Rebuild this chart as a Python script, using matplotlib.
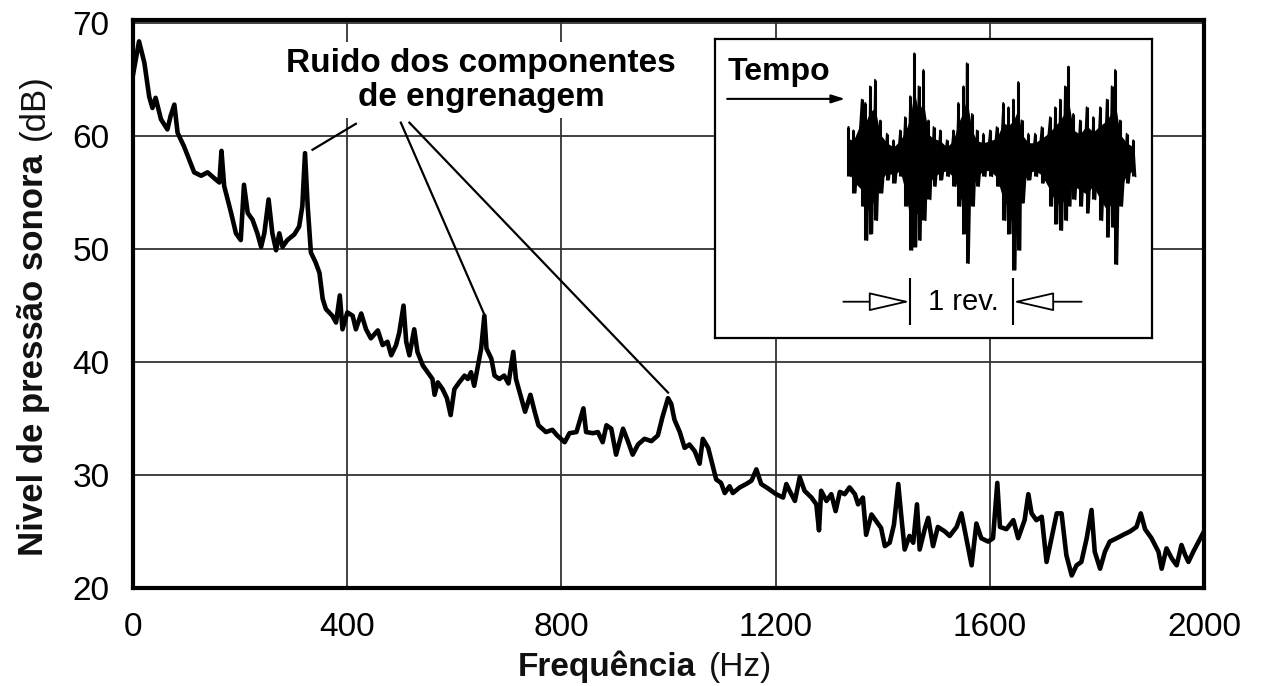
import matplotlib
matplotlib.use("Agg")
import matplotlib.pyplot as plt
import numpy as np

plt.rcParams["font.family"] = ["Liberation Sans", "DejaVu Sans"]

# spectrum (Hz, dB)
freq = [0, 11, 21, 30, 36, 42, 52, 64, 70, 77, 83, 95, 105, 114, 127, 139, 151, 161,
        165, 170, 183, 192, 201, 207, 214, 223, 232, 239, 245, 253, 260, 267, 273, 279,
        288, 301, 310, 316, 321, 326, 332, 341, 348, 354, 360, 372, 379, 386, 391, 400,
        410, 416, 426, 435, 444, 457, 466, 475, 482, 491, 497, 505, 510, 516, 525, 531,
        541, 550, 559, 563, 569, 578, 586, 593, 600, 609, 619, 625, 631, 637, 644, 650,
        656, 660, 669, 675, 684, 693, 701, 710, 715, 725, 732, 742, 750, 757, 771, 783,
        792, 806, 815, 828, 841, 846, 859, 868, 877, 884, 893, 902, 915, 924, 933, 943,
        955, 968, 980, 989, 999, 1005, 1011, 1021, 1030, 1039, 1049, 1058, 1064, 1074,
        1083, 1089, 1098, 1105, 1114, 1120, 1133, 1145, 1155, 1164, 1173, 1186, 1201,
        1214, 1220, 1226, 1236, 1245, 1254, 1267, 1276, 1281, 1285, 1295, 1304, 1312,
        1320, 1329, 1338, 1348, 1354, 1363, 1369, 1379, 1388, 1397, 1404, 1413, 1421,
        1429, 1435, 1441, 1450, 1457, 1464, 1469, 1479, 1485, 1494, 1503, 1516, 1525,
        1538, 1547, 1556, 1566, 1575, 1584, 1597, 1606, 1614, 1619, 1631, 1644, 1653,
        1665, 1672, 1678, 1687, 1697, 1706, 1718, 1725, 1734, 1743, 1753, 1762, 1771,
        1781, 1790, 1796, 1806, 1815, 1824, 1837, 1849, 1862, 1874, 1882, 1890, 1902,
        1915, 1921, 1930, 1940, 1949, 1958, 1965, 1971, 1980, 1990, 2000]
level = [65.5, 68.4, 66.5, 63.5, 62.5, 63.4, 61.5, 60.6, 61.8, 62.8, 60.3, 59.1, 57.9,
         56.8, 56.5, 56.8, 56.3, 55.9, 58.7, 55.6, 53.2, 51.4, 50.8, 55.7, 53.2, 52.6,
         51.4, 50.2, 51.4, 54.4, 51.4, 49.9, 51.4, 50.2, 50.8, 51.3, 52.0, 53.8, 58.5,
         53.8, 49.7, 48.8, 47.9, 45.6, 44.7, 44.1, 43.5, 45.9, 42.9, 44.4, 44.1, 42.9,
         44.3, 42.9, 42.1, 42.8, 41.5, 41.8, 40.6, 41.5, 42.6, 45.0, 41.8, 40.6, 42.9,
         40.9, 39.7, 39.1, 38.5, 37.1, 38.2, 37.6, 36.8, 35.3, 37.6, 38.2, 38.8, 38.5,
         39.1, 37.9, 39.7, 41.2, 44.1, 41.2, 40.3, 38.8, 38.5, 38.8, 38.1, 40.9, 38.5,
         36.8, 35.6, 37.1, 35.6, 34.4, 33.8, 34.0, 33.5, 32.9, 33.7, 33.8, 35.9, 33.8,
         33.7, 33.8, 32.9, 34.4, 34.1, 31.8, 34.1, 33.0, 31.8, 32.7, 33.2, 33.0, 33.5,
         35.2, 36.8, 36.3, 34.9, 33.8, 32.4, 32.7, 32.1, 31.0, 33.2, 32.4, 30.7, 29.6,
         29.3, 28.4, 29.0, 28.4, 28.9, 29.2, 29.5, 30.5, 29.2, 28.8, 28.3, 28.0, 29.2,
         28.6, 27.7, 29.8, 28.6, 28.0, 27.4, 25.1, 28.6, 27.7, 28.3, 26.8, 28.5, 28.3,
         28.9, 28.3, 27.4, 28.0, 24.7, 26.5, 25.9, 25.3, 23.7, 24.0, 25.6, 29.2, 26.2,
         23.4, 24.6, 24.0, 27.4, 23.4, 25.3, 26.2, 23.7, 25.4, 25.0, 24.6, 25.4, 26.6,
         24.4, 22.0, 25.7, 24.4, 24.1, 24.4, 29.3, 25.4, 25.2, 26.0, 24.4, 26.0, 28.3,
         26.6, 26.0, 26.3, 22.3, 25.0, 26.6, 26.6, 22.9, 21.1, 22.0, 22.3, 24.4, 26.9,
         23.2, 21.7, 23.2, 24.1, 24.4, 24.7, 25.0, 25.4, 26.6, 25.2, 24.4, 23.2, 21.7,
         23.5, 22.6, 22.0, 23.8, 22.9, 22.3, 23.2, 24.1, 25.0]

x_ticks = [0, 400, 800, 1200, 1600, 2000]
y_ticks = [20, 30, 40, 50, 60, 70]

# leader lines from the label down to the gear-mesh peaks
leader_start_freq = [416, 500, 516]
leader_start_level = [61.1, 61.2, 61.2]
peak_freq = [335, 656, 999]
peak_level = [58.8, 44.2, 37.3]

# time signal in the inset: envelope of each burst line (relative units)
wave_t = [0.6, 2.3, 5.2, 6.4, 8.1, 9.8, 11.6, 13.9, 16.2, 18.5, 20.2, 22.0, 23.4, 24.9,
          26.6, 28.3, 30.1, 32.4, 34.7, 37.0, 38.7, 40.5, 41.6, 43.4, 45.1, 47.4, 49.7,
          52.0, 54.3, 56.1, 57.8, 59.5, 60.7, 63.0, 65.3, 67.6, 70.5, 72.3, 74.0, 75.7,
          76.9, 78.6, 80.9, 83.2, 85.5, 87.9, 90.2, 91.9, 93.1, 94.8, 97.1, 99.4]
wave_hi = [0.30, 0.27, 0.55, 0.52, 0.67, 0.73, 0.36, 0.24, 0.18, 0.27, 0.39, 0.58, 0.97,
           0.67, 0.82, 0.36, 0.30, 0.27, 0.18, 0.27, 0.52, 0.67, 0.88, 0.42, 0.27, 0.24,
           0.27, 0.30, 0.52, 0.48, 0.55, 0.71, 0.36, 0.24, 0.24, 0.30, 0.39, 0.48, 0.55,
           0.67, 0.85, 0.42, 0.36, 0.48, 0.39, 0.48, 0.55, 0.67, 0.82, 0.36, 0.24, 0.18]
wave_lo = [-0.15, -0.30, -0.42, -0.73, -0.67, -0.55, -0.30, -0.18, -0.21, -0.15, -0.42,
           -0.82, -0.79, -0.73, -0.55, -0.36, -0.24, -0.18, -0.15, -0.24, -0.42, -0.67,
           -0.94, -0.42, -0.24, -0.15, -0.15, -0.24, -0.55, -0.67, -1.00, -0.82, -0.39,
           -0.18, -0.15, -0.21, -0.42, -0.58, -0.64, -0.55, -0.42, -0.36, -0.42, -0.48,
           -0.36, -0.55, -0.70, -0.61, -0.95, -0.42, -0.21, -0.15]
rev_marks = [21.9, 57.7]

fig = plt.figure(figsize=(12.68, 6.86), dpi=100)
ax = fig.add_axes([0.105, 0.143, 0.8445, 0.828])

ax.plot(freq, level, color="black", lw=3.3, solid_joinstyle="round", zorder=3)
ax.set_xlim(0, 2000)
ax.set_ylim(20, 70.3)
ax.set_xticks(x_ticks)
ax.set_yticks(y_ticks)
ax.tick_params(length=0, labelsize=24, pad=17)
ax.grid(True, color="#333333", lw=1.3)
for s in ax.spines.values():
    s.set_linewidth(3)

ax.text(650, 64.95, "Ruido dos componentes\nde engrenagem", ha="center", va="center",
        fontsize=24, fontweight="bold", linespacing=1.1,
        bbox=dict(fc="white", ec="none", pad=4), zorder=4)
for i in range(len(peak_freq)):
    ax.plot([leader_start_freq[i], peak_freq[i]], [leader_start_level[i], peak_level[i]],
            color="black", lw=1.6, zorder=4)

# axis labels, bold name + plain unit
t1 = fig.text(518 / 1268, 1 - 676 / 686, "Frequência", fontsize=24, fontweight="bold",
              ha="left", va="baseline", color="#111111")
ax.annotate("(Hz)", xy=(1, 0), xycoords=t1, xytext=(9, 0), textcoords="offset points",
            ha="left", va="bottom", fontsize=24, color="#111111", annotation_clip=False)
t2 = fig.text(34 / 1268, 1 - 556 / 686, "Nivel de pressão sonora", rotation=90,
              fontsize=25, fontweight="bold", ha="center", va="bottom", color="#111111")
ax.annotate("(dB)", xy=(0.5, 1), xycoords=t2, xytext=(0, 10), textcoords="offset points",
            rotation=90, ha="center", va="bottom", fontsize=25, color="#111111",
            annotation_clip=False)

# inset with the time signal
ax_in = fig.add_axes([0.5639, 0.5073, 0.3446, 0.4359])
ax_in.set_xlim(-45.7, 105.9)
ax_in.set_ylim(-1.62, 1.10)
ax_in.set_xticks([])
ax_in.set_yticks([])
for s in ax_in.spines.values():
    s.set_linewidth(1.6)

wt = np.array(wave_t)
hi = np.array(wave_hi)
lo = np.array(wave_lo)
ax_in.vlines(wt, lo, hi, color="black", lw=2.2)
ax_in.fill_between(wt, lo * 0.65, hi * 0.65, color="black", lw=0)
zx = np.column_stack([wt, wt + 0.8]).ravel()
zy = np.column_stack([hi, lo]).ravel()
ax_in.plot(zx, zy, color="black", lw=1.2)

ax_in.text(-41.2, 0.727, "Tempo", fontsize=23, fontweight="bold", ha="left", va="baseline")
ax_in.annotate("", xy=(-0.6, 0.555), xytext=(-41.5, 0.555),
               arrowprops=dict(arrowstyle="-|>,head_length=0.8,head_width=0.25",
                               color="black", lw=1.5, shrinkA=0, shrinkB=0))
ax_in.vlines(rev_marks, -1.50, -1.076, color="black", lw=1.5)
ax_in.annotate("", xy=(rev_marks[0], -1.29), xytext=(-1.2, -1.29),
               arrowprops=dict(arrowstyle="-|>,head_length=1.3,head_width=0.3",
                               fc="white", ec="black", lw=1.3, shrinkA=0, shrinkB=0,
                               mutation_scale=20))
ax_in.annotate("", xy=(rev_marks[1], -1.29), xytext=(81.5, -1.29),
               arrowprops=dict(arrowstyle="-|>,head_length=1.3,head_width=0.3",
                               fc="white", ec="black", lw=1.3, shrinkA=0, shrinkB=0,
                               mutation_scale=20))
ax_in.text(40.5, -1.29, "1 rev.", ha="center", va="center", fontsize=21)

fig.savefig("out.png", dpi=100)
